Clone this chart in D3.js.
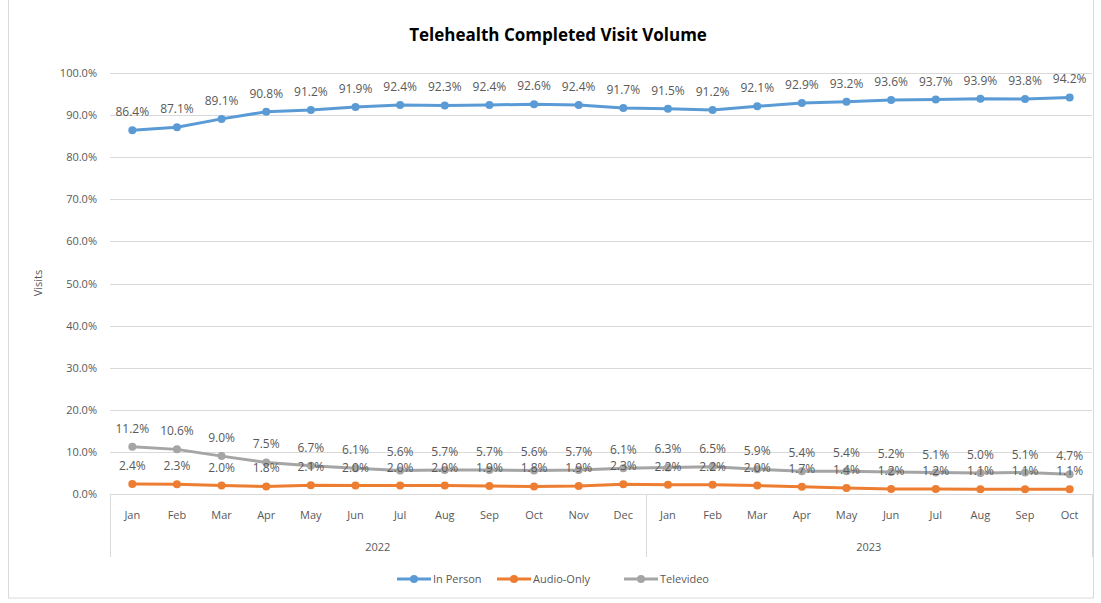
<!DOCTYPE html>
<html>
<head>
<meta charset="utf-8">
<title>Telehealth Completed Visit Volume</title>
<script src="https://d3js.org/d3.v7.min.js"></script>
<style>
  body { margin: 0; padding: 0; background: #fff; }
  svg { display: block; font-family: "Open Sans", "Liberation Sans", sans-serif; }
  .grid line { stroke: #d9d9d9; stroke-width: 1; }
  .tick-label { fill: #595959; font-size: 11px; }
  .data-label { fill: #595959; font-size: 12px; text-anchor: middle; }
</style>
</head>
<body>
<svg width="1101" height="603"></svg>
<script>
// ---- data ----
var months = ['Jan','Feb','Mar','Apr','May','Jun','Jul','Aug','Sep','Oct','Nov','Dec',
              'Jan','Feb','Mar','Apr','May','Jun','Jul','Aug','Sep','Oct'];
var years = ['2022', '2023'];
var yearOf = [0,0,0,0,0,0,0,0,0,0,0,0, 1,1,1,1,1,1,1,1,1,1];
var inPerson = [86.4, 87.1, 89.1, 90.8, 91.2, 91.9, 92.4, 92.3, 92.4, 92.6, 92.4, 91.7,
                91.5, 91.2, 92.1, 92.9, 93.2, 93.6, 93.7, 93.9, 93.8, 94.2];
var audioOnly = [2.4, 2.3, 2.0, 1.8, 2.1, 2.0, 2.0, 2.0, 1.9, 1.8, 1.9, 2.3,
                 2.2, 2.2, 2.0, 1.7, 1.4, 1.2, 1.2, 1.1, 1.1, 1.1];
var televideo = [11.2, 10.6, 9.0, 7.5, 6.7, 6.1, 5.6, 5.7, 5.7, 5.6, 5.7, 6.1,
                 6.3, 6.5, 5.9, 5.4, 5.4, 5.2, 5.1, 5.0, 5.1, 4.7];
var yTicks = [0, 10, 20, 30, 40, 50, 60, 70, 80, 90, 100];

var series = [
  { name: 'In Person', values: inPerson, color: '#5b9bd5' },
  { name: 'Audio-Only', values: audioOnly, color: '#ed7d31' },
  { name: 'Televideo', values: televideo, color: '#a5a5a5' }
];

var svg = d3.select('svg');
var plotLeft = 110, plotRight = 1092, plotTop = 73, plotBottom = 494;

// outer chart border
svg.append('rect')
  .attr('x', 8.5).attr('y', -1).attr('width', 1085).attr('height', 599)
  .attr('fill', 'none').attr('stroke', '#d9d9d9');

svg.append('text')
  .attr('x', 558).attr('y', 41)
  .attr('text-anchor', 'middle')
  .style('font-size', '17px').style('font-weight', 'bold').style('fill', '#000')
  .text('Telehealth Completed Visit Volume');

var x = d3.scaleBand().domain(d3.range(months.length)).range([plotLeft, plotRight]);
var y = d3.scaleLinear().domain([0, 100]).range([plotBottom, plotTop]);

// gridlines
svg.append('g').attr('class', 'grid')
  .selectAll('line').data(yTicks.filter(function(d) { return d > 0; }))
  .enter().append('line')
  .attr('x1', plotLeft).attr('x2', plotRight)
  .attr('y1', function(d) { return Math.round(y(d)) + 0.5; })
  .attr('y2', function(d) { return Math.round(y(d)) + 0.5; });

// y axis labels
svg.append('g').selectAll('text').data(yTicks).enter().append('text')
  .attr('class', 'tick-label')
  .attr('x', 97).attr('y', function(d) { return y(d) + 4; })
  .attr('text-anchor', 'end')
  .text(function(d) { return d.toFixed(1) + '%'; });

svg.append('text')
  .attr('transform', 'translate(42,283) rotate(-90)')
  .attr('text-anchor', 'middle')
  .attr('class', 'tick-label')
  .text('Visits');

// x axis (two-level)
var axisBottom = 557;
var axisG = svg.append('g').attr('stroke', '#d9d9d9').attr('stroke-width', 1);
axisG.append('line').attr('x1', plotLeft).attr('x2', plotRight)
  .attr('y1', Math.round(y(0)) + 0.5).attr('y2', Math.round(y(0)) + 0.5);
var seps = [0];
for (var i = 1; i < months.length; i++) if (yearOf[i] !== yearOf[i - 1]) seps.push(i);
seps.push(months.length);
axisG.selectAll('line.sep').data(seps).enter().append('line')
  .attr('class', 'sep')
  .attr('x1', function(d) { return Math.round(d < months.length ? x(d) : plotRight) + 0.5; })
  .attr('x2', function(d) { return Math.round(d < months.length ? x(d) : plotRight) + 0.5; })
  .attr('y1', y(0)).attr('y2', axisBottom);

svg.append('g').selectAll('text').data(months).enter().append('text')
  .attr('class', 'tick-label')
  .attr('x', function(d, i) { return x(i) + x.bandwidth() / 2; })
  .attr('y', 519)
  .attr('text-anchor', 'middle')
  .text(function(d) { return d; });

svg.append('g').selectAll('text').data(years).enter().append('text')
  .attr('class', 'tick-label')
  .attr('x', function(d, k) {
    var a = x(seps[k]), b = seps[k + 1] < months.length ? x(seps[k + 1]) : plotRight;
    return (a + b) / 2;
  })
  .attr('y', 551)
  .attr('text-anchor', 'middle')
  .text(function(d) { return d; });

// lines
var line = d3.line()
  .x(function(d, i) { return x(i) + x.bandwidth() / 2; })
  .y(function(d) { return y(d); });

var drawOrder = [series[2], series[1], series[0]];
drawOrder.forEach(function(s) {
  var g = svg.append('g');
  g.append('path').datum(s.values)
    .attr('d', line).attr('fill', 'none')
    .attr('stroke', s.color).attr('stroke-width', 3)
    .attr('stroke-linejoin', 'round');
  g.selectAll('circle').data(s.values).enter().append('circle')
    .attr('cx', function(d, i) { return x(i) + x.bandwidth() / 2; })
    .attr('cy', function(d) { return y(d); })
    .attr('r', 4).attr('fill', s.color);
});

// data labels
series.forEach(function(s) {
  svg.append('g').selectAll('text').data(s.values).enter().append('text')
    .attr('class', 'data-label')
    .attr('x', function(d, i) { return x(i) + x.bandwidth() / 2; })
    .attr('y', function(d) { return y(d) - 14; })
    .text(function(d) { return d.toFixed(1) + '%'; });
});

// legend
var legendX = [397, 497, 624];
var lg = svg.append('g').selectAll('g').data(series).enter().append('g')
  .attr('transform', function(d, i) { return 'translate(' + legendX[i] + ',579)'; });
lg.append('line').attr('x1', 0).attr('x2', 34).attr('y1', 0).attr('y2', 0)
  .attr('stroke', function(d) { return d.color; }).attr('stroke-width', 3);
lg.append('circle').attr('cx', 17).attr('cy', 0).attr('r', 4)
  .attr('fill', function(d) { return d.color; });
lg.append('text').attr('class', 'tick-label')
  .attr('x', 36).attr('y', 4)
  .text(function(d) { return d.name; });
</script>
</body>
</html>
